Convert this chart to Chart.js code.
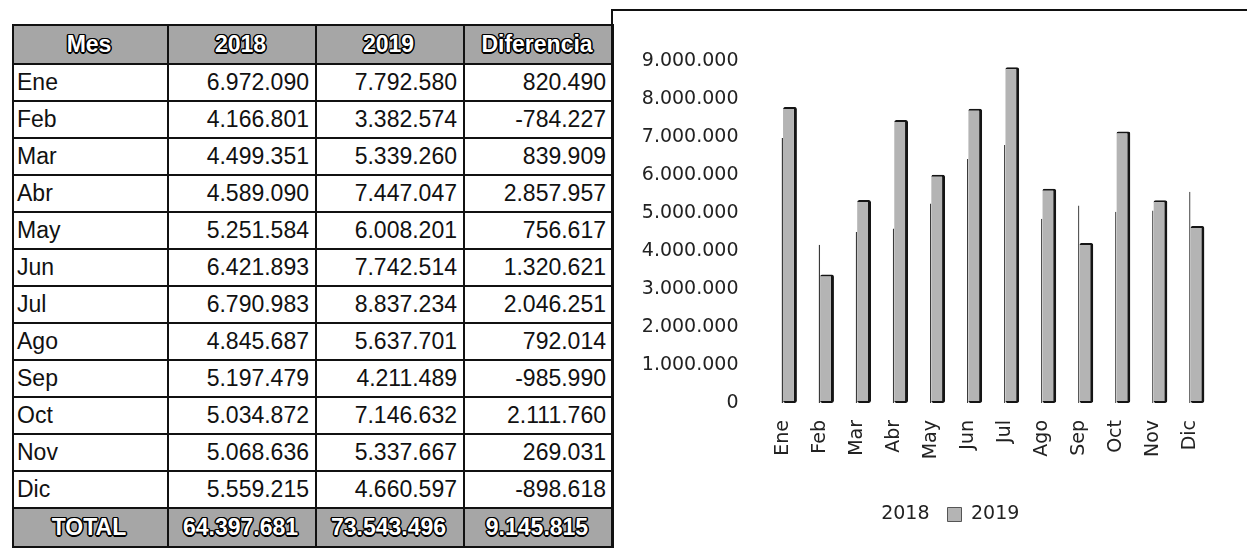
<!DOCTYPE html>
<html>
<head>
    <meta charset="utf-8">
    <script type="text/javascript" src="https://cdn.jsdelivr.net/npm/chart.js/dist/chart.umd.min.js"></script>
    <style>
        body { margin: 0; background: #fff; width: 1247px; height: 548px; overflow: hidden; position: relative; }
        #tabla {
            position: absolute; left: 12px; top: 24px;
            border-collapse: collapse;
            font-family: "Liberation Sans", Arial, sans-serif;
            font-size: 23px;
            color: #111;
        }
        #tabla td, #tabla th {
            border: 2px solid #111;
            padding: 0 6px 0 3px;
            height: 35px;
            text-align: right;
        }
        #tabla td.mes { text-align: left; }
        #tabla th, #tabla tr.total td {
            background: #a6a6a6;
            color: #fff;
            font-weight: bold;
            font-size: 23px;
            text-align: center;
            height: 37px;
            text-shadow: -1px -1px 0 #000, 1px -1px 0 #000, -1px 1px 0 #000, 1px 1px 0 #000,
                         0 -1.5px 0 #000, 0 1.5px 0 #000, -1.5px 0 0 #000, 1.5px 0 0 #000;
        }
        #caja {
            position: absolute; left: 611px; top: 9px; width: 640px; height: 545px;
            border-top: 2px solid #111; border-left: 2px solid #111;
        }
        #lienzo { position: absolute; left: 614px; top: 12px; width: 633px; height: 536px; }
    </style>
</head>
<body>
    <!-- Tabla de datos -->
    <table id="tabla">
        <colgroup>
            <col style="width:155px"><col style="width:148px"><col style="width:148px"><col style="width:149px">
        </colgroup>
        <thead><tr><th>Mes</th><th>2018</th><th>2019</th><th>Diferencia</th></tr></thead>
        <tbody id="cuerpo"></tbody>
    </table>

    <!-- Caja del gráfico -->
    <div id="caja"></div>
    <div id="lienzo"><canvas id="grafico"></canvas></div>

    <script>
        // Datos
        const meses = ['Ene', 'Feb', 'Mar', 'Abr', 'May', 'Jun', 'Jul', 'Ago', 'Sep', 'Oct', 'Nov', 'Dic'];
        const valores2018 = [6972090, 4166801, 4499351, 4589090, 5251584, 6421893, 6790983, 4845687, 5197479, 5034872, 5068636, 5559215];
        const valores2019 = [7792580, 3382574, 5339260, 7447047, 6008201, 7742514, 8837234, 5637701, 4211489, 7146632, 5337667, 4660597];
        const diferencias = [820490, -784227, 839909, 2857957, 756617, 1320621, 2046251, 792014, -985990, 2111760, 269031, -898618];
        const totales = [64397681, 73543496, 9145815];
        const ticksY = [0, 1000000, 2000000, 3000000, 4000000, 5000000, 6000000, 7000000, 8000000, 9000000];

        // Formato con punto de miles
        function fmt(n) {
            return String(n).replace(/\B(?=(\d{3})+(?!\d))/g, '.');
        }

        // Filas de la tabla
        const cuerpo = document.getElementById('cuerpo');
        meses.forEach((m, i) => {
            const tr = document.createElement('tr');
            tr.innerHTML = '<td class="mes">' + m + '</td><td>' + fmt(valores2018[i]) + '</td><td>' +
                fmt(valores2019[i]) + '</td><td>' + fmt(diferencias[i]) + '</td>';
            cuerpo.appendChild(tr);
        });
        const trTotal = document.createElement('tr');
        trTotal.className = 'total';
        trTotal.innerHTML = '<td>TOTAL</td>' + totales.map(t => '<td>' + fmt(t) + '</td>').join('');
        cuerpo.appendChild(trTotal);

        // Gráfico
        Chart.defaults.font.family = '"DejaVu Sans", Verdana, sans-serif';
        Chart.defaults.color = '#222';

        const ctx = document.getElementById('grafico').getContext('2d');

        // Desplaza la leyenda un poco a la derecha, como en el original
        const moverLeyenda = {
            id: 'moverLeyenda',
            afterLayout(chart) {
                chart.legend.left += 17;
                chart.legend.right += 17;
            }
        };

        const config = {
            type: 'bar',
            data: {
                labels: meses,
                datasets: [{
                    label: '2018',
                    data: valores2018,
                    backgroundColor: 'rgba(255,255,255,0)',
                    borderColor: '#3a3a3a',
                    borderWidth: {top: 0, right: 1.2, bottom: 0, left: 0},
                    borderSkipped: false
                }, {
                    label: '2019',
                    data: valores2019,
                    backgroundColor: '#b4b4b4',
                    borderColor: '#151515',
                    borderWidth: {top: 2, right: 3, bottom: 2, left: 0},
                    borderSkipped: false,
                    borderRadius: 2
                }]
            },
            plugins: [moverLeyenda],
            options: {
                responsive: true,
                maintainAspectRatio: false,
                animation: false,
                datasets: {
                    bar: { categoryPercentage: 0.75, barPercentage: 1 }
                },
                layout: {
                    padding: { left: 20, right: 38, top: 49, bottom: 14 }
                },
                plugins: {
                    legend: {
                        position: 'bottom',
                        labels: {
                            font: { size: 19 },
                            boxWidth: 14,
                            boxHeight: 14,
                            padding: 18,
                            generateLabels: function(chart) {
                                const items = Chart.defaults.plugins.legend.labels.generateLabels(chart);
                                items.forEach((it, i) => {
                                    if (i === 0) {
                                        it.fillStyle = 'rgba(255,255,255,0)';
                                        it.strokeStyle = 'rgba(255,255,255,0)';
                                    } else {
                                        it.fillStyle = '#b4b4b4';
                                        it.strokeStyle = '#555';
                                        it.lineWidth = 1;
                                    }
                                });
                                return items;
                            }
                        }
                    },
                    tooltip: { enabled: false }
                },
                scales: {
                    y: {
                        min: 0,
                        max: 9000000,
                        afterBuildTicks: (scale) => { scale.ticks = ticksY.map(v => ({ value: v })); },
                        afterFit: (scale) => { scale.width = 130.5; },
                        grid: { display: false, drawTicks: false },
                        border: { display: false },
                        ticks: {
                            padding: 26,
                            font: { size: 19 },
                            callback: (v) => fmt(v)
                        }
                    },
                    x: {
                        afterFit: (scale) => { scale.height = 84; },
                        grid: { display: false, drawTicks: false },
                        border: { display: false },
                        ticks: {
                            padding: 17,
                            maxRotation: 90,
                            minRotation: 90,
                            font: { size: 19 }
                        }
                    }
                }
            }
        };

        const grafico = new Chart(ctx, config);
    </script>
</body>
</html>
